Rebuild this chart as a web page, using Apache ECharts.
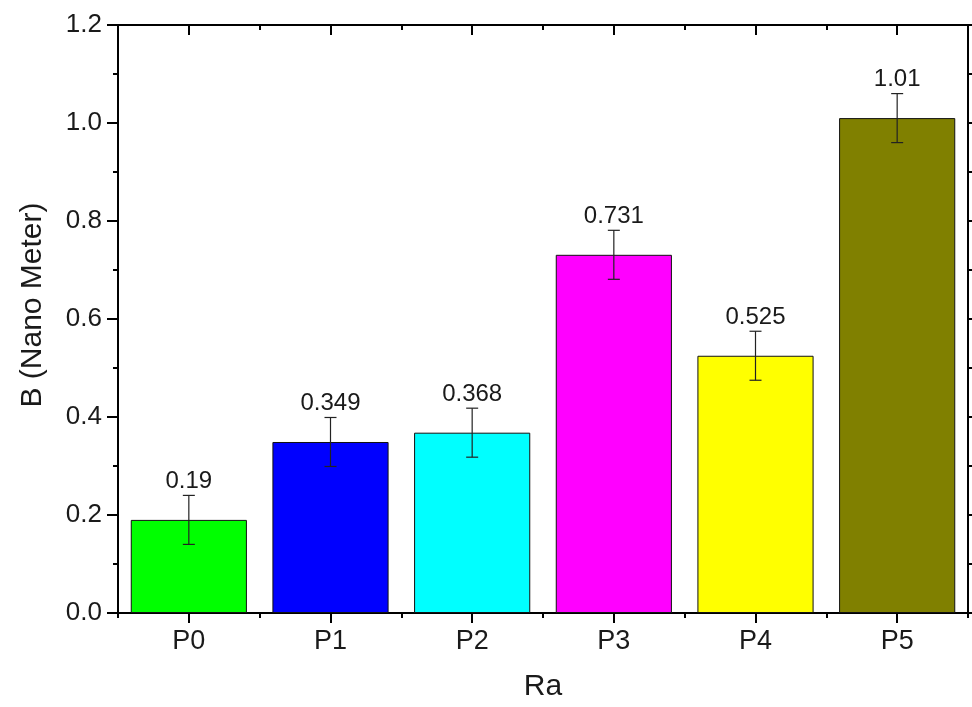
<!DOCTYPE html>
<html>
<head>
<meta charset="utf-8">
<script src="https://cdn.jsdelivr.net/npm/echarts@6/dist/echarts.min.js"></script>
<style>
  html, body { margin: 0; padding: 0; background: #fff; }
  #chart { width: 972px; height: 707px; }
</style>
</head>
<body>
<div id="chart"></div>
<script>
// Sample groups and measured B values (nm) with their error margins
const categories = ['P0', 'P1', 'P2', 'P3', 'P4', 'P5'];
const values = [0.19, 0.349, 0.368, 0.731, 0.525, 1.01];
const errors = [0.05, 0.05, 0.05, 0.05, 0.05, 0.05];
const barColors = ['#00ff00', '#0000ff', '#00ffff', '#ff00ff', '#ffff00', '#808000'];
const yTicks = { min: 0, max: 1.2, step: 0.2 };

const FONT = 'Liberation Sans, Arial, sans-serif';
const INK = '#1a1a1a';
const axisLine = { show: true, lineStyle: { color: '#000', width: 2 } };

const chart = echarts.init(document.getElementById('chart'), null, { renderer: 'canvas' });

const barData = values.map((v, i) => ({
  value: v,
  itemStyle: { color: barColors[i] }
}));
const errData = values.map((v, i) => [i, v, errors[i], String(v)]);

function renderError(params, api) {
  const x = api.value(0);
  const v = api.value(1);
  const e = api.value(2);
  const hi = api.coord([x, v + e]);
  const lo = api.coord([x, v - e]);
  const cap = 6;
  const stroke = { stroke: '#222', lineWidth: 1.2 };
  return {
    type: 'group',
    children: [
      { type: 'line', shape: { x1: hi[0], y1: hi[1], x2: lo[0], y2: lo[1] }, style: stroke },
      { type: 'line', shape: { x1: hi[0] - cap, y1: hi[1], x2: hi[0] + cap, y2: hi[1] }, style: stroke },
      { type: 'line', shape: { x1: lo[0] - cap, y1: lo[1], x2: lo[0] + cap, y2: lo[1] }, style: stroke },
      {
        type: 'text',
        style: {
          text: api.value(3),
          x: hi[0],
          y: hi[1] - 2,
          align: 'center',
          verticalAlign: 'bottom',
          fontSize: 24,
          fontFamily: FONT,
          fill: INK
        }
      }
    ]
  };
}

chart.setOption({
  animation: false,
  backgroundColor: '#fff',
  grid: { left: 118, right: 4, top: 25, bottom: 90, containLabel: false },
  xAxis: [
    {
      type: 'category', position: 'bottom', data: categories,
      axisLine: axisLine,
      axisTick: { show: true, alignWithLabel: true, length: 10, lineStyle: { color: '#000', width: 2 } },
      axisLabel: { fontSize: 27, fontFamily: FONT, color: INK, margin: 15 },
      name: 'Ra', nameLocation: 'middle', nameGap: 59,
      nameTextStyle: { fontSize: 30, fontFamily: FONT, color: INK },
      splitLine: { show: false }
    },
    {
      type: 'category', position: 'bottom', data: categories,
      axisLine: { show: false },
      axisTick: { show: true, alignWithLabel: false, length: 5, lineStyle: { color: '#000', width: 2 } },
      axisLabel: { show: false },
      splitLine: { show: false }
    },
    {
      type: 'category', position: 'top', data: categories,
      axisLine: axisLine,
      axisTick: { show: true, inside: true, alignWithLabel: true, length: 10, lineStyle: { color: '#000', width: 2 } },
      axisLabel: { show: false },
      splitLine: { show: false }
    },
    {
      type: 'category', position: 'top', data: categories,
      axisLine: { show: false },
      axisTick: { show: true, inside: true, alignWithLabel: false, length: 5, lineStyle: { color: '#000', width: 2 } },
      axisLabel: { show: false },
      splitLine: { show: false }
    }
  ],
  yAxis: [
    {
      type: 'value', position: 'left',
      min: yTicks.min, max: yTicks.max, interval: yTicks.step,
      axisLine: axisLine,
      axisTick: { show: true, length: 11, lineStyle: { color: '#000', width: 2 } },
      minorTick: { show: true, splitNumber: 2, length: 5, lineStyle: { color: '#000', width: 2 } },
      axisLabel: { fontSize: 26, fontFamily: FONT, color: INK, margin: 16, formatter: v => v.toFixed(1) },
      splitLine: { show: false },
      name: 'B (Nano Meter)', nameLocation: 'middle', nameGap: 70,
      nameTextStyle: { fontSize: 30, fontFamily: FONT, color: INK, padding: [0, 0, 0, 28] }
    },
    {
      type: 'value', position: 'right',
      min: yTicks.min, max: yTicks.max, interval: yTicks.step,
      axisLine: axisLine,
      axisTick: { show: true, length: 10, lineStyle: { color: '#000', width: 2 } },
      minorTick: { show: true, splitNumber: 2, length: 5, lineStyle: { color: '#000', width: 2 } },
      axisLabel: { show: false },
      splitLine: { show: false }
    }
  ],
  series: [
    {
      type: 'bar', xAxisIndex: 0, yAxisIndex: 0,
      data: barData,
      barCategoryGap: '18%',
      itemStyle: { borderColor: '#111', borderWidth: 1 }
    },
    {
      type: 'custom', xAxisIndex: 0, yAxisIndex: 0,
      data: errData,
      renderItem: renderError,
      z: 5
    }
  ]
});
</script>
</body>
</html>
